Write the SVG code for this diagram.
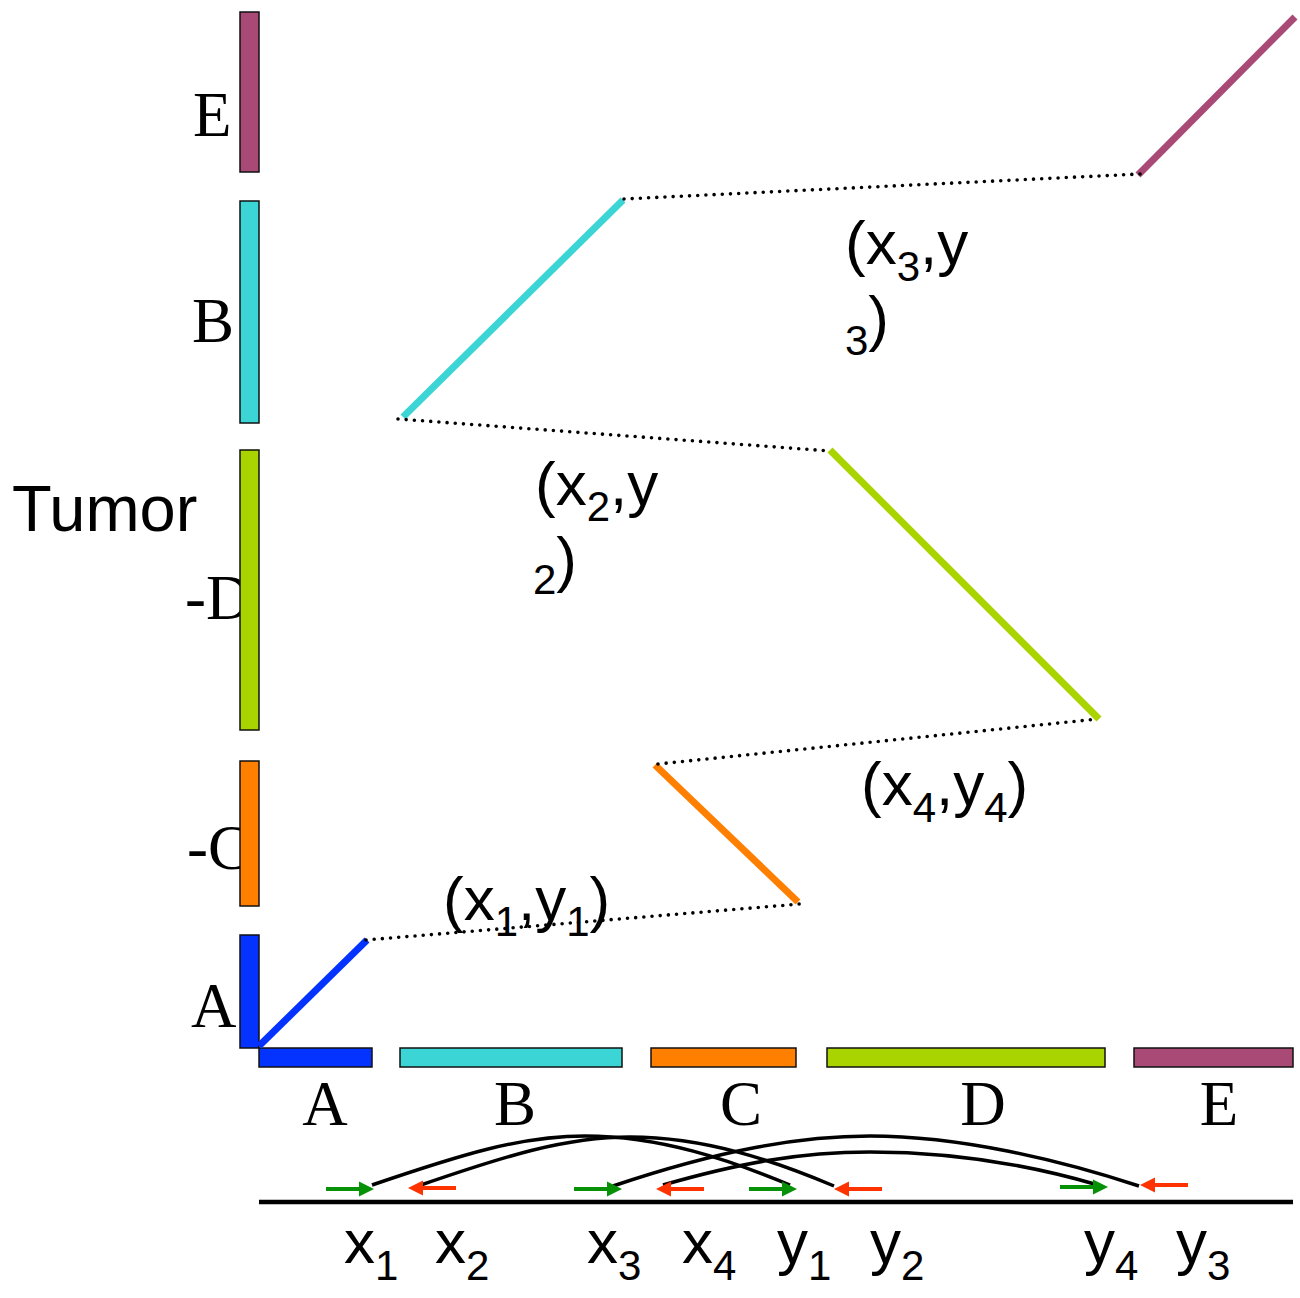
<svg xmlns="http://www.w3.org/2000/svg" xmlns:xlink="http://www.w3.org/1999/xlink" width="1300" height="1298" viewBox="0 0 1300 1298">
<style>
.serif{font-family:"Liberation Serif","Times New Roman",serif;font-size:63px;fill:#000}
.sans{font-family:"Liberation Sans",Arial,sans-serif;font-size:62px;fill:#000}
.sub{font-size:42px}
.bar{stroke:#111;stroke-width:1.5}
.seg{stroke-width:7;stroke-linecap:butt;fill:none}
.dot{stroke:#000;stroke-width:3.6;stroke-linecap:round;stroke-dasharray:0 8.2;fill:none}
.arc{stroke:#000;stroke-width:3.5;fill:none}
.g{fill:#079107}
.r{fill:#ff3300}
</style>
<defs>
<path id="ar" d="M-48,-2 H-15 V-7.5 L0,0 L-15,7.5 V2 H-48 Z"/>
<path id="al" d="M48,-2 H15 V-7.5 L0,0 L15,7.5 V2 H48 Z"/>
</defs>
<rect width="1300" height="1298" fill="#fff"/>

<g id="axis-labels">
<text class="sans" x="12" y="531" style="font-size:65px">Tumor</text>
<text class="serif" x="193" y="136">E</text>
<text class="serif" x="192" y="342">B</text>
<text class="serif" x="185" y="619">-D</text>
<text class="serif" x="187" y="869">-C</text>
<text class="serif" x="191" y="1027">A</text>
<text class="serif" x="325" y="1125" text-anchor="middle">A</text>
<text class="serif" x="515" y="1125" text-anchor="middle">B</text>
<text class="serif" x="741" y="1125" text-anchor="middle">C</text>
<text class="serif" x="983" y="1125" text-anchor="middle">D</text>
<text class="serif" x="1219" y="1125" text-anchor="middle">E</text>
</g>

<g id="tumor-E"><rect class="bar" x="240" y="12" width="19" height="160" fill="#a84a75"/></g>
<g id="tumor-B"><rect class="bar" x="240" y="201" width="19" height="222" fill="#3cd5d5"/></g>
<g id="tumor-D"><rect class="bar" x="240" y="450" width="19" height="280" fill="#aad400"/></g>
<g id="tumor-C"><rect class="bar" x="240" y="761" width="19" height="145" fill="#ff7f00"/></g>
<g id="tumor-A"><rect class="bar" x="240" y="935" width="19" height="113" fill="#0433ff"/></g>

<g id="ref-A"><rect class="bar" x="259" y="1048" width="113" height="19" fill="#0433ff"/></g>
<g id="ref-B"><rect class="bar" x="400" y="1048" width="222" height="19" fill="#3cd5d5"/></g>
<g id="ref-C"><rect class="bar" x="651" y="1048" width="145" height="19" fill="#ff7f00"/></g>
<g id="ref-D"><rect class="bar" x="827" y="1048" width="278" height="19" fill="#aad400"/></g>
<g id="ref-E"><rect class="bar" x="1134" y="1048" width="159" height="19" fill="#a84a75"/></g>

<g id="connectors">
<line class="seg" x1="259" y1="1046" x2="367" y2="940" stroke="#0433ff"/>
<line class="seg" x1="655" y1="765" x2="798" y2="902" stroke="#ff7f00"/>
<line class="seg" x1="403" y1="417" x2="623" y2="200" stroke="#3cd5d5"/>
<line class="seg" x1="830" y1="450" x2="1099" y2="719" stroke="#aad400"/>
<line class="seg" x1="1138" y1="175" x2="1295" y2="17" stroke="#a84a75"/>
<line class="dot" x1="366" y1="940" x2="800" y2="904"/>
<line class="dot" x1="398" y1="419" x2="830" y2="451"/>
<line class="dot" x1="624" y1="199" x2="1140" y2="174"/>
<line class="dot" x1="658" y1="764" x2="1098" y2="719"/>

<line x1="259" y1="1202" x2="1293" y2="1202" stroke="#000" stroke-width="4.5"/>
<path class="arc" d="M372,1185 C460,1155 520,1136 585,1136 C660,1136 730,1160 790,1185"/>
<path class="arc" d="M418,1186 C505,1156 565,1137 630,1137 C705,1137 775,1161 834,1186"/>
<path class="arc" d="M613,1186 C720,1150 800,1136 870,1136 C960,1136 1060,1160 1139,1186"/>
<path class="arc" d="M663,1185 C740,1163 800,1152 870,1152 C950,1152 1030,1165 1098,1185"/>
<use xlink:href="#ar" class="g" x="374" y="1189"/>
<use xlink:href="#ar" class="g" x="622" y="1189"/>
<use xlink:href="#ar" class="g" x="797" y="1189"/>
<use xlink:href="#ar" class="g" x="1108" y="1187"/>
<use xlink:href="#al" class="r" x="408" y="1188"/>
<use xlink:href="#al" class="r" x="656" y="1189"/>
<use xlink:href="#al" class="r" x="834" y="1189"/>
<use xlink:href="#al" class="r" x="1140" y="1185"/>
</g>

<g id="point-labels">
<text class="sans" x="443" y="920">(x<tspan class="sub" dy="16">1</tspan><tspan dy="-16">,y</tspan><tspan class="sub" dy="16">1</tspan><tspan dy="-16">)</tspan></text>
<text class="sans" x="535" y="505">(x<tspan class="sub" dy="16">2</tspan><tspan dy="-16">,y</tspan></text>
<text class="sans" x="533" y="594"><tspan class="sub">2</tspan><tspan dy="-14">)</tspan></text>
<text class="sans" x="845" y="264">(x<tspan class="sub" dy="17">3</tspan><tspan dy="-17">,y</tspan></text>
<text class="sans" x="845" y="355"><tspan class="sub">3</tspan><tspan dy="-16">)</tspan></text>
<text class="sans" x="861" y="805">(x<tspan class="sub" dy="17">4</tspan><tspan dy="-17">,y</tspan><tspan class="sub" dy="17">4</tspan><tspan dy="-17">)</tspan></text>
</g>

<g id="position-labels">
<text class="sans" x="344" y="1263">x<tspan class="sub" dy="17">1</tspan></text>
<text class="sans" x="435" y="1263">x<tspan class="sub" dy="17">2</tspan></text>
<text class="sans" x="587" y="1263">x<tspan class="sub" dy="17">3</tspan></text>
<text class="sans" x="682" y="1263">x<tspan class="sub" dy="17">4</tspan></text>
<text class="sans" x="777" y="1263">y<tspan class="sub" dy="17">1</tspan></text>
<text class="sans" x="870" y="1263">y<tspan class="sub" dy="17">2</tspan></text>
<text class="sans" x="1084" y="1263">y<tspan class="sub" dy="17">4</tspan></text>
<text class="sans" x="1176" y="1263">y<tspan class="sub" dy="17">3</tspan></text>
</g>
</svg>
